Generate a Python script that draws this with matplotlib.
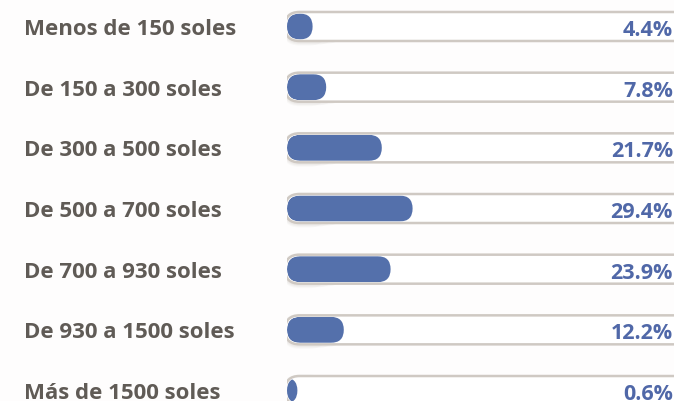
import matplotlib.pyplot as plt
import matplotlib.transforms as mtransforms
from matplotlib.patches import FancyBboxPatch

# Distribución por rango de ingreso
labels = ['Menos de 150 soles', 'De 150 a 300 soles', 'De 300 a 500 soles',
          'De 500 a 700 soles', 'De 700 a 930 soles', 'De 930 a 1500 soles',
          'Más de 1500 soles']
values = [4.4, 7.8, 21.7, 29.4, 23.9, 12.2, 0.6]
value_labels = ['4.4%', '7.8%', '21.7%', '29.4%', '23.9%', '12.2%', '0.6%']

W, H, DPI = 674, 401, 100
BLUE = '#5470ab'
TXT_BLUE = '#5068a8'
GRAY_TXT = '#605b56'
TRACK_EDGE = '#cfc9c3'

px_x = 4.0           # pixels per percent unit
row_px = 60.67       # pixels per row
first_row = 26.5     # pixel centre of the first row
cap = 2.0            # the rounded cap reaches a bit left of zero
aspect = px_x / row_px

fig = plt.figure(figsize=(W / DPI, H / DPI), dpi=DPI)
fig.patch.set_facecolor('#fefdfd')

ax_left = 287
ax_right = 740
ax = fig.add_axes([ax_left / W, 0, (ax_right - ax_left) / W, 1])
ax.set_xlim(-cap, -cap + (ax_right - ax_left) / px_x)
ax.set_ylim((H - first_row) / row_px, -first_row / row_px)
ax.axis('off')

def stadium(x0, x1, yc, h_px, **kw):
    h = h_px / row_px
    r = h_px / 2 / px_x
    return FancyBboxPatch((x0, yc - h / 2), x1 - x0, h,
                          boxstyle=f'round,pad=0,rounding_size={r}',
                          mutation_aspect=aspect, **kw)

track_left = -cap - 2 / px_x
for i, v in enumerate(values):
    # soft shadow around the start of the track
    for k, a in enumerate([0.04, 0.05, 0.06]):
        grow = 6 - 2 * k
        ax.add_patch(stadium(track_left - grow / px_x / 2, 8 + 2 * k, i + 1.5 / row_px,
                             29 + grow, facecolor='#8a7f75', edgecolor='none',
                             alpha=a, zorder=1))
    ax.add_patch(stadium(track_left, 200, i, 29, facecolor='white',
                         edgecolor=TRACK_EDGE, linewidth=1.8, zorder=2))
    clip = stadium(-cap, 200, i, 26, transform=ax.transData)
    right = v
    left = min(-cap, right - 26 / px_x)
    bar = stadium(left, right, i, 26, facecolor=BLUE, edgecolor='none', zorder=3)
    ax.add_patch(bar)
    bar.set_clip_path(clip)

lab_tr = mtransforms.blended_transform_factory(fig.transFigure, ax.transData)
for i, (lab, vl) in enumerate(zip(labels, value_labels)):
    ax.text(24 / W, i + 3 / row_px, lab, transform=lab_tr, ha='left', va='center',
            fontsize=16, fontweight='bold', color=GRAY_TXT, family='Open Sans')
    ax.text(673 / W, i + 4 / row_px, vl, transform=lab_tr, ha='right', va='center',
            fontsize=15.5, fontweight='bold', color=TXT_BLUE, family='Open Sans', zorder=5)

fig.savefig('out.png', dpi=DPI, facecolor=fig.get_facecolor())
